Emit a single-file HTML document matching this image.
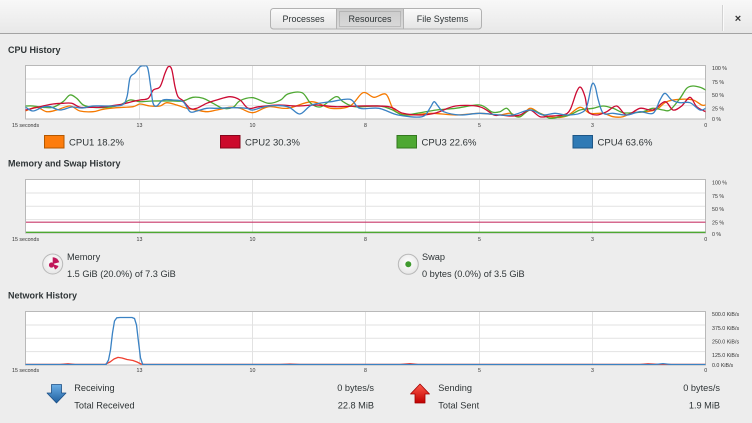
<!DOCTYPE html>
<html><head><meta charset="utf-8">
<style>
html,body{margin:0;padding:0;background:#ededed;}
svg{display:block;}
text{font-family:"Liberation Sans",sans-serif;fill:#2e3436;}
.h{font-weight:bold;font-size:9px;}
.t{font-size:9.2px;}
.ax{font-size:5.3px;fill:#333;}
.lg{font-size:9.5px;}
.grid{stroke:#e2e2e2;stroke-width:1;}
.ln{fill:none;stroke-width:1.3;stroke-linejoin:round;stroke-linecap:round;}
</style></head>
<body>
<svg width="752" height="423" viewBox="0 0 752 423" xmlns="http://www.w3.org/2000/svg">
<defs>
<linearGradient id="hdr" x1="0" y1="0" x2="0" y2="1"><stop offset="0" stop-color="#f8f8f8"/><stop offset="1" stop-color="#e8e8e8"/></linearGradient>
<linearGradient id="btn" x1="0" y1="0" x2="0" y2="1"><stop offset="0" stop-color="#fbfbfb"/><stop offset="1" stop-color="#e4e4e4"/></linearGradient>
<linearGradient id="btnp" x1="0" y1="0" x2="0" y2="1"><stop offset="0" stop-color="#cbcbcb"/><stop offset="1" stop-color="#dadada"/></linearGradient>
<linearGradient id="blu" x1="0" y1="0" x2="0" y2="1"><stop offset="0" stop-color="#6aaee6"/><stop offset="1" stop-color="#1f5f9e"/></linearGradient>
<linearGradient id="rd" x1="0" y1="0" x2="0" y2="1"><stop offset="0" stop-color="#ff5a4a"/><stop offset="1" stop-color="#c00000"/></linearGradient>
<radialGradient id="ic" cx="0.5" cy="0.4" r="0.6"><stop offset="0" stop-color="#ffffff"/><stop offset="1" stop-color="#e6e6e6"/></radialGradient>
<clipPath id="c1"><rect x="25.5" y="65.5" width="680" height="53.5"/></clipPath>
<clipPath id="c3"><rect x="25.5" y="311.5" width="680" height="53.5"/></clipPath>
</defs>

<!-- header -->
<rect x="0" y="0" width="752" height="33" fill="url(#hdr)"/>
<line x1="0" y1="33.5" x2="752" y2="33.5" stroke="#a3a3a3"/>
<rect x="270.5" y="8.5" width="211" height="20.5" rx="3" fill="url(#btn)" stroke="#b2b2b2"/>
<rect x="336.5" y="9" width="67" height="19.5" fill="url(#btnp)"/>
<line x1="336.5" y1="8.5" x2="336.5" y2="29" stroke="#b2b2b2"/>
<line x1="403.5" y1="8.5" x2="403.5" y2="29" stroke="#b2b2b2"/>
<rect x="339.5" y="11.5" width="61" height="15" fill="none" stroke="#8a8a8a" stroke-width="0.7" stroke-dasharray="1,1"/>
<text class="t" x="303.5" y="21.8" text-anchor="middle" style="font-size:9px">Processes</text>
<text class="t" x="370" y="21.8" text-anchor="middle" style="font-size:9px">Resources</text>
<text class="t" x="442.5" y="21.8" text-anchor="middle" style="font-size:9px">File Systems</text>
<line x1="722.5" y1="5" x2="722.5" y2="31" stroke="#d2d2d2"/>
<line x1="723.5" y1="5" x2="723.5" y2="31" stroke="#fafafa"/>
<text x="738" y="22" text-anchor="middle" style="font-size:11px;font-weight:bold;fill:#333">×</text>

<!-- CPU -->
<text class="h" x="8" y="53">CPU History</text>
<rect x="25.5" y="65.5" width="680" height="53.5" fill="#fff" stroke="#b9b9b9"/>
<g class="grid">
<line x1="26" y1="79" x2="705" y2="79"/><line x1="26" y1="92.3" x2="705" y2="92.3"/><line x1="26" y1="105.6" x2="705" y2="105.6"/>
<line x1="139.5" y1="66" x2="139.5" y2="118.5"/><line x1="252.5" y1="66" x2="252.5" y2="118.5"/><line x1="365.5" y1="66" x2="365.5" y2="118.5"/><line x1="479.5" y1="66" x2="479.5" y2="118.5"/><line x1="592.5" y1="66" x2="592.5" y2="118.5"/>
</g>
<g clip-path="url(#c1)">
<polyline class="ln sm" stroke="#f57900" points="25.7,110.7 36.7,107.3 46.7,111.7 56.7,110 70,106 80,111 93,111.7 103,109.3 116.7,107.7 133,106.7 140,104 150,106 160,106 166.7,102.7 176.7,105 186.7,108.3 196.7,110 206.7,111.7 216.7,110 230,107.3 240,108.3 252.8,112.7 268.6,106.7 287.8,108.3 311.8,101.7 331,108.3 350,106 363,92.7 374,97.3 386,94.3 394,110 407.7,115 431.7,113.3 455.6,115 479.6,113.3 498.8,115 510,113.3 520,116.7 530,108.3 540,113.3 553,117.3 566.7,116 580,107.3 590,113.3 603.3,113.3 613,116.7 623,116.7 633,112.7 646.7,111.7 656.7,109.3 666.7,101.7 680,99.3 693,100 701.7,105 705.7,105"/>
<polyline class="ln sm" stroke="#4ea832" points="25.7,106 33,106 43,107.3 53,107.3 63,101.7 70,95 76.7,98.3 83.3,105 93,107.3 107,107.3 120,105 130,100 140,101.7 153,101 173,101 183,101 193,97.3 203,98.3 213,103.3 223,108.3 233,107.3 240,100.7 252.8,97.7 268.6,103.3 280.6,100 287.8,94 302,92.7 310.8,103.3 321,106.7 335.7,96.7 343,101.7 355,106.7 379,106 391,109.3 403,115 417,113.3 436.5,110 455.6,108.3 479.6,105 492,112 500,111.7 506.7,108.3 513,115 520,116.7 530,110 540,113.3 550,118.3 560,116.7 570,115 580,110 593,108.3 603,106 613,108.3 623,112.7 633,112.7 643,111.7 653,108.3 663,110 670,110 680,98.3 686.7,88.3 693,86 700,87.3 705.7,90"/>
<polyline class="ln sm" stroke="#cc0a33" points="25.7,110 33,108.3 43,106 53,104 63,103.3 71.7,103.3 80,107.3 90,107.3 100,107.3 110,106 123,104 131.7,101.7 140,100 148.3,98.3 153.3,90 160,86.7 165,73.3 168.3,66.7 171.7,69.3 175,86.7 178,96.7 183,100.7 190,108.3 196.7,108.3 206.7,103.3 216.7,100 230,96.7 240,100 248.3,108.3 259,106.7 278,105 297,106 316.5,105 335.7,106.7 359.7,106 388.5,106.7 403,113.3 422,115 436.5,112.7 455.6,106 479.6,106.7 494,115 500,115 510,116 520,115 530,110 540,116.7 550,116 563,115 570,110 576.7,91.7 580.7,87.3 585,96.7 588.3,111.7 596.7,115 606.7,111.7 616.7,106 626.7,115 640,108.3 653,110 665,101.7 673,110 681.7,106 690,97.3 696.7,106.7 705.7,111.7"/>
<polyline class="ln sm" stroke="#3a82c4" points="25.7,107.3 33,111 43,107 50,106.7 60,110 72,107 82,108 93,106 107,106 122,105 127,96.7 130,78 135,73 140,66.7 144,65.8 147.7,68 150.7,86.7 153,103 156.7,106 163,100 173,100 183,101.7 190,111.7 196.7,111 206.7,108.3 216.7,108.3 233,107.7 246.7,108.3 252.8,110 268.6,106 287.8,106.7 299.8,114 311.8,105 331,101.7 350,99.3 359.7,108.3 379,108.3 398,115 422,116.7 430,108 434,101.7 438,106 443.6,111.7 460,115 479.6,113.3 500,115 513,115 530,110 543,115 555,113.3 566.7,115 580,113.3 586.7,106.7 591.7,85 595,86 598.3,100 603.3,113.3 613,113.3 626.7,115 640,111.7 653,113.3 660,100 665,93.3 671.7,100 680,102.7 690,102.7 700,110 705.7,108.3"/>
</g>
<g>
<text class="ax" x="712" y="69.8">100 %</text>
<text class="ax" x="712" y="83.8">75 %</text>
<text class="ax" x="712" y="97">50 %</text>
<text class="ax" x="712" y="110.4">25 %</text>
<text class="ax" x="712" y="121">0 %</text>
<text class="ax" x="12" y="127">15 seconds</text>
<text class="ax" x="139.5" y="127" text-anchor="middle">13</text>
<text class="ax" x="252.5" y="127" text-anchor="middle">10</text>
<text class="ax" x="365.5" y="127" text-anchor="middle">8</text>
<text class="ax" x="479.5" y="127" text-anchor="middle">5</text>
<text class="ax" x="592.5" y="127" text-anchor="middle">3</text>
<text class="ax" x="705.7" y="127" text-anchor="middle">0</text>
</g>

<!-- legend -->
<rect x="44.5" y="135.5" width="19.5" height="12.5" fill="#fd7c0c" stroke="#b35800"/>
<text class="lg" x="69" y="145.3">CPU1 18.2%</text>
<rect x="220.5" y="135.5" width="19.5" height="12.5" fill="#cc0a2c" stroke="#86061c"/>
<text class="lg" x="245" y="145.3">CPU2 30.3%</text>
<rect x="397" y="135.5" width="19.5" height="12.5" fill="#4ea832" stroke="#33781f"/>
<text class="lg" x="421.5" y="145.3">CPU3 22.6%</text>
<rect x="573" y="135.5" width="19.5" height="12.5" fill="#2f7ab5" stroke="#1d5686"/>
<text class="lg" x="597.5" y="145.3">CPU4 63.6%</text>

<!-- Memory -->
<text class="h" x="8" y="166.5">Memory and Swap History</text>
<rect x="25.5" y="179.5" width="680" height="53.5" fill="#fff" stroke="#b9b9b9"/>
<g class="grid">
<line x1="26" y1="193" x2="705" y2="193"/><line x1="26" y1="206.3" x2="705" y2="206.3"/><line x1="26" y1="219.6" x2="705" y2="219.6"/>
<line x1="139.5" y1="180" x2="139.5" y2="232.5"/><line x1="252.5" y1="180" x2="252.5" y2="232.5"/><line x1="365.5" y1="180" x2="365.5" y2="232.5"/><line x1="479.5" y1="180" x2="479.5" y2="232.5"/><line x1="592.5" y1="180" x2="592.5" y2="232.5"/>
</g>
<line x1="26" y1="222.2" x2="705.5" y2="222.2" stroke="#c8386a" stroke-width="1.2"/>
<line x1="26" y1="232.3" x2="705.5" y2="232.3" stroke="#4ea832" stroke-width="1.3"/>
<g>
<text class="ax" x="712" y="184.5">100 %</text>
<text class="ax" x="712" y="197.8">75 %</text>
<text class="ax" x="712" y="211.1">50 %</text>
<text class="ax" x="712" y="224.5">25 %</text>
<text class="ax" x="712" y="235.8">0 %</text>
<text class="ax" x="12" y="241">15 seconds</text>
<text class="ax" x="139.5" y="241" text-anchor="middle">13</text>
<text class="ax" x="252.5" y="241" text-anchor="middle">10</text>
<text class="ax" x="365.5" y="241" text-anchor="middle">8</text>
<text class="ax" x="479.5" y="241" text-anchor="middle">5</text>
<text class="ax" x="592.5" y="241" text-anchor="middle">3</text>
<text class="ax" x="705.7" y="241" text-anchor="middle">0</text>
</g>
<circle cx="52.7" cy="264" r="10" fill="url(#ic)" stroke="#b8b8b8"/>
<path d="M52.7,264 L52.7,257.2 A6.8,6.8 0 0 1 59.3,262.2 Z" fill="#c0175a"/>
<path d="M52.7,264 L58.5,266 A6,6 0 0 1 55,269.5 Z" fill="#c0175a"/>
<circle cx="51.5" cy="265" r="2.6" fill="#c0175a"/>
<text class="t" x="67" y="260">Memory</text>
<text class="t" x="67" y="277">1.5 GiB (20.0%) of 7.3 GiB</text>
<circle cx="408.3" cy="264.3" r="10" fill="url(#ic)" stroke="#b8b8b8"/>
<circle cx="408.3" cy="264.3" r="3" fill="#3f9a2e"/>
<text class="t" x="422" y="260">Swap</text>
<text class="t" x="422" y="277">0 bytes (0.0%) of 3.5 GiB</text>

<!-- Network -->
<text class="h" x="8" y="298.5">Network History</text>
<rect x="25.5" y="311.5" width="680" height="53.5" fill="#fff" stroke="#b9b9b9"/>
<g class="grid">
<line x1="26" y1="325" x2="705" y2="325"/><line x1="26" y1="338.3" x2="705" y2="338.3"/><line x1="26" y1="351.6" x2="705" y2="351.6"/>
<line x1="139.5" y1="312" x2="139.5" y2="364.5"/><line x1="252.5" y1="312" x2="252.5" y2="364.5"/><line x1="365.5" y1="312" x2="365.5" y2="364.5"/><line x1="479.5" y1="312" x2="479.5" y2="364.5"/><line x1="592.5" y1="312" x2="592.5" y2="364.5"/>
</g>
<g clip-path="url(#c3)">
<polyline class="ln" stroke="#ef4030" points="25.7,364.4 60,364.4 68,363.8 75,364.4 105,364.4 110,362 114,359 118,357.4 122,358 127,359.5 133,360.5 137,362 141,364 145,364.4 280,364.4 290,364 300,364.4 400,364.4 410,363.6 418,364.4 640,364.4 648,363.8 660,364.4 705.7,364.4"/>
<polyline class="ln" stroke="#3a82c4" stroke-width="1.3" points="25.7,364.5 106,364.5 108.5,360 110.5,350 112.5,333 114.5,321 116.8,317.8 120,317.5 132,317.5 134.5,318.5 136.5,325 138.5,342 140.5,358 142.7,364.5 655,364.5 663,363.6 671,364.5 705.7,364.5"/>
</g>
<g>
<text class="ax" x="712" y="316">500.0 KiB/s</text>
<text class="ax" x="712" y="329.8">375.0 KiB/s</text>
<text class="ax" x="712" y="343.5">250.0 KiB/s</text>
<text class="ax" x="712" y="356.8">125.0 KiB/s</text>
<text class="ax" x="712" y="366.8">0.0 KiB/s</text>
<text class="ax" x="12" y="372">15 seconds</text>
<text class="ax" x="139.5" y="372" text-anchor="middle">13</text>
<text class="ax" x="252.5" y="372" text-anchor="middle">10</text>
<text class="ax" x="365.5" y="372" text-anchor="middle">8</text>
<text class="ax" x="479.5" y="372" text-anchor="middle">5</text>
<text class="ax" x="592.5" y="372" text-anchor="middle">3</text>
<text class="ax" x="705.7" y="372" text-anchor="middle">0</text>
</g>

<!-- receiving / sending -->
<path d="M51.5,384.5 L61.5,384.5 L61.5,393 L66,393 L56.5,403 L47,393 L51.5,393 Z" fill="url(#blu)" stroke="#1c4f85" stroke-width="0.8" stroke-linejoin="round"/>
<text class="t" x="74.3" y="391">Receiving</text>
<text class="t" x="74.3" y="408.3">Total Received</text>
<text class="t" x="374" y="391" text-anchor="end">0 bytes/s</text>
<text class="t" x="374" y="408.3" text-anchor="end">22.8 MiB</text>
<path d="M420,384 L429.5,394 L425,394 L425,403 L415,403 L415,394 L410.5,394 Z" fill="url(#rd)" stroke="#a00000" stroke-width="0.8" stroke-linejoin="round"/>
<text class="t" x="438.3" y="391">Sending</text>
<text class="t" x="438.3" y="408.3">Total Sent</text>
<text class="t" x="720" y="391" text-anchor="end">0 bytes/s</text>
<text class="t" x="720" y="408.3" text-anchor="end">1.9 MiB</text>
</svg>
<script>
(function(){
  var NS="http://www.w3.org/2000/svg";
  var pls=document.querySelectorAll("polyline.sm");
  for(var i=0;i<pls.length;i++){
    var pl=pls[i];
    var raw=pl.getAttribute("points").trim().split(/\s+/).map(function(s){var a=s.split(",");return [parseFloat(a[0]),parseFloat(a[1])];});
    if(raw.length<3) continue;
    var d="M"+raw[0][0]+","+raw[0][1];
    for(var k=0;k<raw.length-1;k++){
      var p0=raw[k>0?k-1:k],p1=raw[k],p2=raw[k+1],p3=raw[k+2<raw.length?k+2:k+1];
      var t=0.5/3;
      var c1x=p1[0]+(p2[0]-p0[0])*t, c1y=p1[1]+(p2[1]-p0[1])*t;
      var c2x=p2[0]-(p3[0]-p1[0])*t, c2y=p2[1]-(p3[1]-p1[1])*t;
      d+=" C"+c1x.toFixed(2)+","+c1y.toFixed(2)+" "+c2x.toFixed(2)+","+c2y.toFixed(2)+" "+p2[0]+","+p2[1];
    }
    var path=document.createElementNS(NS,"path");
    path.setAttribute("d",d);
    path.setAttribute("class","ln");
    path.setAttribute("stroke",pl.getAttribute("stroke"));
    pl.parentNode.replaceChild(path,pl);
  }
})();
</script>
</body></html>
